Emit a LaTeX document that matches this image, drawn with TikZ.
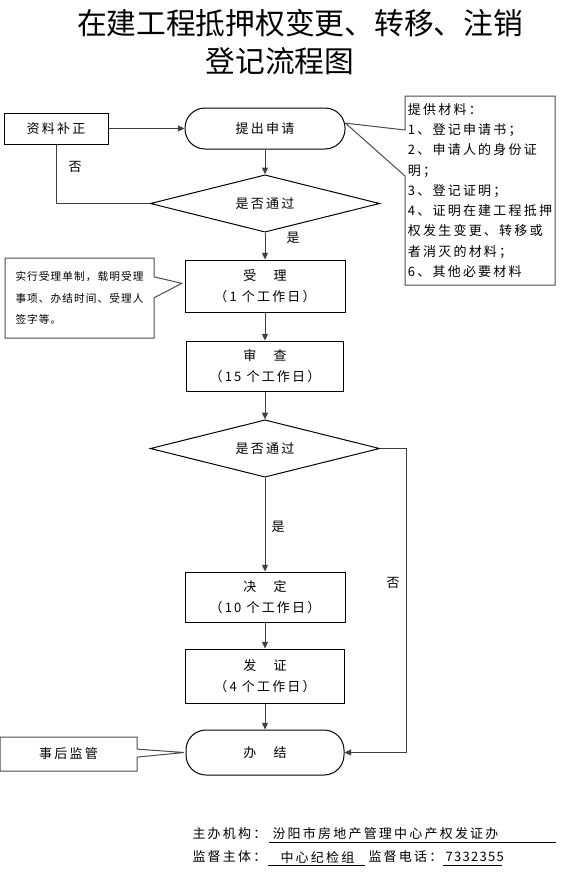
\documentclass[tikz,border=0pt]{standalone}
\usepackage{fontspec}
\newfontfamily\cjk[LetterSpace=17]{Noto Sans CJK SC}
\newfontfamily\cjknote[LetterSpace=10]{Noto Sans CJK SC}
\newfontfamily\cjktitle{Noto Sans CJK SC}
\usetikzlibrary{shapes.geometric,shapes.callouts,arrows.meta}

\begin{document}
\begin{tikzpicture}[x=0.75pt, y=-0.75pt, line width=0.75pt,
  every node/.style={font=\cjk\fontsize{9.75}{15.75}\selectfont},
  procbox/.style={draw, minimum width=120pt, minimum height=38pt, align=center, inner sep=2pt},
  termbox/.style={draw, rounded corners=15pt, minimum width=120pt, minimum height=32pt},
  decision/.style={draw, diamond, aspect=4, minimum width=172pt, minimum height=43pt, inner sep=0pt},
  notebox/.style={draw=black!70, rectangle callout, align=left, inner sep=2pt},
  flow/.style={draw=black!75, -{Triangle[length=5pt,width=4.5pt]}},
  plain/.style={draw=black!75}]
  \useasboundingbox (0,0) rectangle (567,874);
  % title
  \node[font=\cjktitle\fontsize{22.3}{26}\selectfont] (title1) at (300,23) {在建工程抵押权变更、转移、注销};
  \node[font=\cjktitle\fontsize{22.3}{26}\selectfont] (title2) at (280,61) {登记流程图};
  % main column
  \node[draw, minimum width=78pt, minimum height=23.25pt] (supply) at (56,128.5) {资料补正};
  \node[termbox, minimum height=30.75pt] (apply) at (265,128.5) {提出申请};
  \node[decision] (check1) at (265,203.5) {是否通过};
  \node[procbox, minimum height=39pt] (accept) at (265,286) {受\hspace{13pt}理\\（1 个工作日）};
  \node[procbox, minimum width=118pt, minimum height=37.5pt] (review) at (265,366) {审\hspace{13pt}查\\（15 个工作日）};
  \node[decision] (check2) at (265,448.5) {是否通过};
  \node[procbox, minimum height=37.5pt] (decide) at (265,597) {决\hspace{13pt}定\\（10 个工作日）};
  \node[procbox, minimum width=119pt, minimum height=40.5pt] (issue) at (265,676) {发\hspace{13pt}证\\（4 个工作日）};
  \node[termbox, minimum width=118.5pt, minimum height=33.75pt] (finish) at (265,752.5) {办\hspace{13pt}结};
  % notes
  \node[notebox, minimum width=112.5pt, minimum height=141.75pt,
    callout absolute pointer={([yshift=4pt]apply.east)}, callout pointer width=34.5pt,
    font=\cjk\fontsize{9.75}{15.2}\selectfont] (docs) at (480,190.5)
    {提供材料：\\1、登记申请书；\\2、申请人的身份证\\明；\\3、登记证明；\\4、证明在建工程抵押\\权发生变更、转移或\\者消灭的材料；\\6、其他必要材料};
  \node[notebox, minimum width=111.75pt, minimum height=60pt,
    callout absolute pointer={([xshift=-2pt,yshift=2pt]accept.west)}, callout pointer width=15.75pt,
    font=\cjknote\fontsize{8}{16}\selectfont] (rule) at (79.5,298)
    {实行受理单制，载明受理\\事项、办结时间、受理人\\签字等。};
  \node[notebox, minimum width=102.75pt, minimum height=25.5pt,
    callout absolute pointer={([xshift=-1pt]finish.west)}, callout pointer width=6pt] (post) at (68.5,754) {事后监管};
  % connectors
  \draw[flow] (supply) -- (apply);
  \draw[flow] (apply) -- (check1);
  \draw[plain] (check1.west) -| (supply.south);
  \node (no1) at (75,167) {否};
  \draw[flow] (check1) -- (accept);
  \node (yes1) at (293,238) {是};
  \draw[flow] (accept) -- (review);
  \draw[flow] (review) -- (check2);
  \draw[flow] (check2) -- (decide);
  \node (yes2) at (278,527) {是};
  \draw[flow] (decide) -- (issue);
  \draw[flow] (issue) -- (finish);
  \draw[flow] (check2.east) -- ++(26,0) |- (finish.east);
  \node (no2) at (393,583) {否};
  % footer
  \node[anchor=west, inner sep=0pt] (orgkey) at (192,834) {主办机构：};
  \node[anchor=west, inner sep=0pt] (orgval) at (272,834) {汾阳市房地产管理中心产权发证办};
  \draw[line width=0.6pt] (269,842) -- (556,842);
  \node[anchor=west, inner sep=0pt] (supkey) at (192,857) {监督主体：};
  \node[anchor=west, inner sep=0pt] (supval) at (280,857) {中心纪检组};
  \draw[line width=0.6pt] (268,865) -- (365,865);
  \node[anchor=west, inner sep=0pt] (telkey) at (368,857) {监督电话：};
  \node[anchor=west, inner sep=0pt, font=\cjknote\fontsize{9.75}{12}\selectfont] (telval) at (445,857) {7332355};
  \draw[line width=0.6pt] (443,865) -- (502,865);
\end{tikzpicture}
\end{document}
